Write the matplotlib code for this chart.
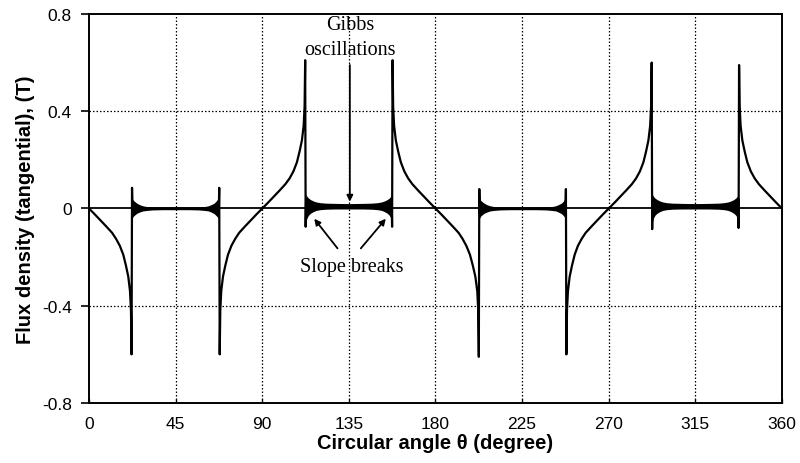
import matplotlib
matplotlib.use("Agg")
import matplotlib.pyplot as plt

plt.rcParams['axes.unicode_minus'] = False

# ---------------- data ----------------
# segment 0-90 deg (negative lobes)
ang_a = [0, 3, 6, 9, 12, 14, 16, 17.8, 19.2, 20.4, 21.3, 21.8, 22.1, 22.35, 22.6, 23.0, 23.5,
         30, 45, 60, 66.5, 67.0, 67.4, 67.65, 67.9, 68.2, 68.7, 69.6, 70.8, 72.2, 74, 76,
         78, 81, 84, 87, 90]
flux_a = [0, -0.024, -0.049, -0.074, -0.1, -0.124, -0.153, -0.19, -0.235, -0.28, -0.34, -0.42,
          -0.6, 0.085, -0.02, 0.01, 0.0,
          0.0, 0.0, 0.0, 0.0, 0.01, -0.02, 0.085, -0.6, -0.42, -0.34, -0.28, -0.235, -0.19,
          -0.153, -0.124, -0.1, -0.074, -0.049, -0.024, 0]

# segment 90-180 deg (positive lobes)
ang_b = [90, 93, 96, 99, 102, 104.2, 106.2, 108, 109.4, 110.6, 111.5, 112.0, 112.3, 112.55,
         112.8, 113.3, 114, 115, 117, 120, 125, 135, 145, 150, 153, 155, 156, 156.7, 157.2,
         157.45, 157.7, 158.0, 158.5, 159.4, 160.6, 162.0, 163.8, 165.8, 168, 171, 174, 177, 180]
flux_b = [0, 0.024, 0.049, 0.074, 0.1, 0.124, 0.153, 0.19, 0.235, 0.28, 0.34, 0.42, 0.61, -0.075,
          0.04, 0.033, 0.027, 0.022, 0.017, 0.014, 0.012, 0.011, 0.012, 0.014, 0.017, 0.022,
          0.027, 0.033, 0.04, -0.075, 0.61, 0.42, 0.34, 0.28, 0.235, 0.19, 0.153, 0.124, 0.1,
          0.074, 0.049, 0.024, 0]

# segment 180-270 deg (negative lobes)
ang_c = [180, 183, 186, 189, 192, 194, 196, 197.9, 199.4, 200.7, 201.7, 202.2, 202.5, 202.75,
         203.0, 203.4, 203.9, 210, 225, 240, 246.6, 247.1, 247.5, 247.75, 248.0, 248.3, 248.8,
         249.7, 250.9, 252.3, 254, 256, 258, 261, 264, 267, 270]
flux_c = [0, -0.024, -0.049, -0.074, -0.1, -0.124, -0.153, -0.19, -0.235, -0.28, -0.34, -0.42,
          -0.61, 0.08, -0.02, 0.01, 0.0,
          0.0, 0.0, 0.0, 0.0, 0.01, -0.02, 0.08, -0.6, -0.42, -0.34, -0.28, -0.235, -0.19,
          -0.153, -0.124, -0.1, -0.074, -0.049, -0.024, 0]

# segment 270-360 deg (positive lobes)
ang_d = [270, 273, 276, 279, 282, 284.2, 286.2, 288, 289.4, 290.6, 291.5, 292.0, 292.3, 292.55,
         292.8, 293.3, 294, 295, 297, 300, 305, 315, 325, 330, 333, 335, 336, 336.7, 337.2,
         337.45, 337.7, 338.0, 338.5, 339.4, 340.6, 342.0, 343.8, 345.8, 348, 351, 354, 357, 360]
flux_d = [0, 0.024, 0.049, 0.074, 0.1, 0.124, 0.153, 0.19, 0.235, 0.28, 0.34, 0.42, 0.6, -0.085,
          0.04, 0.033, 0.027, 0.022, 0.017, 0.014, 0.012, 0.011, 0.012, 0.014, 0.017, 0.022,
          0.027, 0.033, 0.04, -0.08, 0.59, 0.42, 0.34, 0.28, 0.235, 0.19, 0.153, 0.124, 0.1,
          0.074, 0.049, 0.024, 0]

# Gibbs oscillation envelopes (upper / lower) of the flat regions
band_a_x = [22.4, 23.0, 24, 25, 26.5, 28, 30, 33, 38, 45, 52, 57, 60, 62, 63.5, 65, 66, 67.0, 67.6]
band_a_hi = [0.042, 0.034, 0.027, 0.021, 0.015, 0.011, 0.008, 0.006, 0.005, 0.005, 0.005, 0.006,
             0.008, 0.011, 0.016, 0.022, 0.03, 0.04, 0.047]
band_a_lo = [-0.042, -0.032, -0.025, -0.019, -0.014, -0.01, -0.008, -0.006, -0.005, -0.005,
             -0.005, -0.006, -0.008, -0.01, -0.015, -0.021, -0.029, -0.037, -0.044]

band_b_x = [112.6, 113.2, 114, 115, 116.5, 118, 120, 123, 128, 135, 142, 147, 150, 152, 153.5,
            155, 156, 156.8, 157.4]
band_b_hi = [0.06, 0.05, 0.043, 0.037, 0.031, 0.027, 0.024, 0.022, 0.021, 0.02, 0.021, 0.022,
             0.024, 0.027, 0.031, 0.037, 0.043, 0.05, 0.06]
band_b_lo = [-0.06, -0.04, -0.028, -0.02, -0.013, -0.008, -0.005, -0.003, -0.002, -0.002, -0.002,
             -0.003, -0.005, -0.008, -0.013, -0.02, -0.028, -0.04, -0.06]

band_c_x = [202.8, 203.4, 204.4, 205.4, 206.9, 208.4, 210.4, 213.4, 218.4, 225.4, 232.4, 237.4,
            240.4, 242.4, 243.9, 245.4, 246.4, 247.2, 247.7]
band_c_hi = [0.042, 0.034, 0.027, 0.021, 0.015, 0.011, 0.008, 0.006, 0.005, 0.005, 0.005, 0.006,
             0.008, 0.011, 0.016, 0.022, 0.03, 0.04, 0.047]
band_c_lo = [-0.042, -0.032, -0.025, -0.019, -0.014, -0.01, -0.008, -0.006, -0.005, -0.005,
             -0.005, -0.006, -0.008, -0.01, -0.015, -0.021, -0.029, -0.037, -0.044]

band_d_x = [292.6, 293.2, 294, 295, 296.5, 298, 300, 303, 308, 315, 322, 327, 330, 332, 333.5,
            335, 336, 336.8, 337.4]
band_d_hi = [0.06, 0.05, 0.043, 0.037, 0.031, 0.027, 0.024, 0.022, 0.021, 0.02, 0.021, 0.022,
             0.024, 0.027, 0.031, 0.037, 0.043, 0.05, 0.06]
band_d_lo = [-0.06, -0.04, -0.028, -0.02, -0.013, -0.008, -0.005, -0.003, -0.002, -0.002, -0.002,
             -0.003, -0.005, -0.008, -0.013, -0.02, -0.028, -0.04, -0.06]

x_ticks = [0, 45, 90, 135, 180, 225, 270, 315, 360]
y_ticks = [-0.8, -0.4, 0, 0.4, 0.8]
y_tick_labels = ["-0.8", "-0.4", "0", "0.4", "0.8"]

# ---------------- figure ----------------
fig = plt.figure(figsize=(8, 4.64), dpi=100)
ax = fig.add_axes([0.11125, 0.1293, 0.86625, 0.8384])

ax.set_xlim(0, 360)
ax.set_ylim(-0.8, 0.8)

grid_kw = dict(color='black', lw=0.9, linestyle=(0, (1.2, 1.6)), zorder=1)
for xv in x_ticks[1:-1]:
    ax.axvline(xv, **grid_kw)
for yv in [-0.4, 0.4]:
    ax.axhline(yv, **grid_kw)
ax.axhline(0, color='black', lw=1.3, zorder=2)

for bx, bh, bl in [(band_a_x, band_a_hi, band_a_lo), (band_b_x, band_b_hi, band_b_lo),
                   (band_c_x, band_c_hi, band_c_lo), (band_d_x, band_d_hi, band_d_lo)]:
    ax.fill_between(bx, bl, bh, color='black', lw=0, zorder=3)

for a, f in [(ang_a, flux_a), (ang_b, flux_b), (ang_c, flux_c), (ang_d, flux_d)]:
    ax.plot(a, f, color='black', lw=1.6, zorder=4, solid_joinstyle='round')

for s in ax.spines.values():
    s.set_linewidth(1.4)
    s.set_color('black')

ax.set_xticks(x_ticks)
ax.set_yticks(y_ticks)
ax.set_yticklabels(y_tick_labels)
ax.tick_params(axis='y', direction='out', length=5.5, width=1.2, pad=7, labelsize=12.5)
ax.tick_params(axis='x', direction='in', length=3, width=1.0, pad=9, labelsize=12.5)
for lab in ax.get_xticklabels() + ax.get_yticklabels():
    lab.set_fontfamily('Liberation Sans')

ax.set_xlabel('Circular angle θ (degree)', fontsize=14.5, fontweight='bold',
              family='Liberation Sans', labelpad=2)
ax.set_ylabel('Flux density (tangential), (T)', fontsize=14.5, fontweight='bold',
              family='Liberation Sans', labelpad=5)

serif = dict(family='Liberation Serif', fontsize=14.5, ha='center', va='center', zorder=6)
ax.text(135.5, 0.757, 'Gibbs', **serif)
ax.text(135.5, 0.655, 'oscillations', **serif)
ax.text(136.5, -0.237, 'Slope breaks', **serif)

arrow_kw = dict(arrowstyle='-|>', color='black', lw=1.3, mutation_scale=9,
                shrinkA=0, shrinkB=0)
ax.annotate('', xy=(135.5, 0.028), xytext=(135.5, 0.59), arrowprops=arrow_kw, zorder=6)
ax.annotate('', xy=(117.0, -0.042), xytext=(129.1, -0.164), arrowprops=arrow_kw, zorder=6)
ax.annotate('', xy=(154.2, -0.042), xytext=(141.2, -0.164), arrowprops=arrow_kw, zorder=6)

fig.savefig('out.png', dpi=100)
